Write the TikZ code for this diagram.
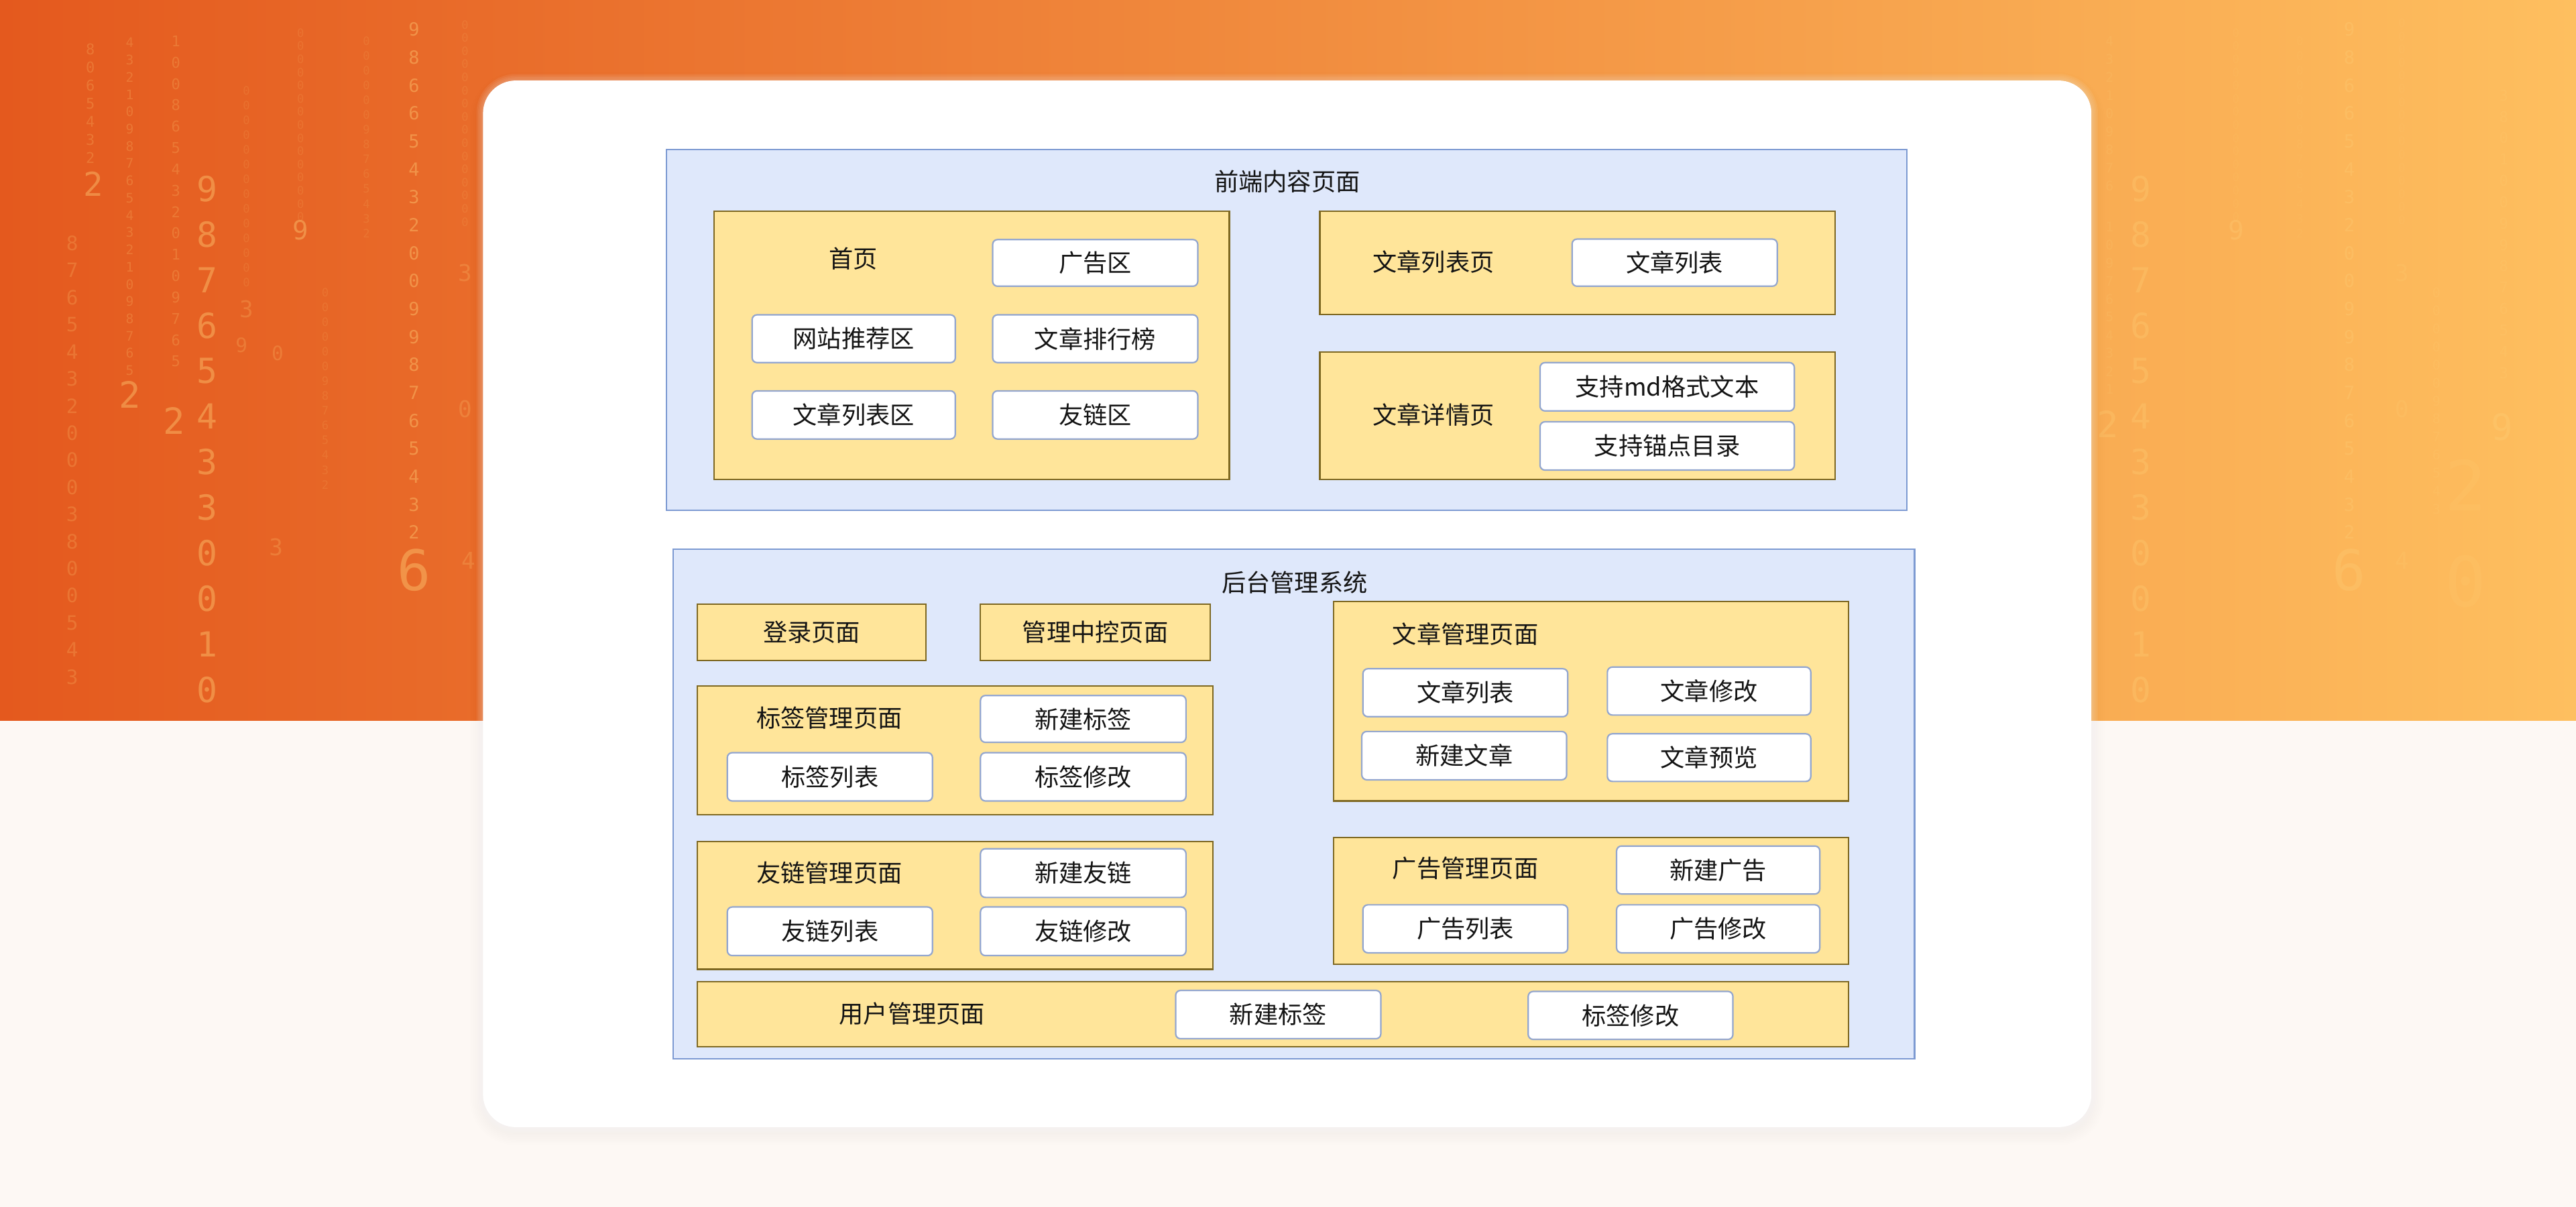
\documentclass[tikz,border=0pt]{standalone}
\usepackage{fontspec}
\setmainfont{Noto Sans CJK SC}
\newfontfamily\digfont{DejaVu Sans Mono}
\definecolor{orL}{HTML}{E4591E}
\definecolor{orR}{HTML}{FEBF5F}
\definecolor{creamb}{HTML}{FDF8F4}
\definecolor{bluef}{HTML}{DFE8FB}
\definecolor{blued}{HTML}{7D9AD2}
\definecolor{yelf}{HTML}{FFE59A}
\definecolor{yeld}{HTML}{7E6822}
\definecolor{wbd}{HTML}{93A6CF}
\definecolor{txt}{HTML}{141414}
\definecolor{digc}{HTML}{FFD27A}
\newcommand\lblfont{\fontsize{14.8}{17}\selectfont}
\tikzset{
  cont/.style={draw=blued, fill=bluef, line width=0.9pt, inner sep=0pt, outer sep=0pt},
  ybox/.style={draw=yeld, fill=yelf, line width=0.9pt, inner sep=0pt, outer sep=0pt, text=txt, font=\lblfont},
  wbox/.style={draw=wbd, fill=white, line width=0.9pt, rounded corners=3pt, inner sep=0pt, outer sep=0pt, text=txt, font=\lblfont},
  lbl/.style={text=txt, font=\lblfont, inner sep=0pt},
  digs/.style={text=digc, inner sep=0pt, font=\digfont\fontsize{#1}{#1}\selectfont},
}
\newcommand\bx[7]{\node[#2, minimum width={(#5)-(#3)}, minimum height={(#6)-(#4)}] (#1) at ({((#3)+(#5))/2},{((#4)+(#6))/2}) {#7};}
\newcommand\digcol[6]{%
  \foreach \d [count=\i from 0] in {#6} {
    \node[digs={#4}] (#1-\i) at (#2, {#3+\i*#5}) {\d};
  }%
}
\begin{document}
\begin{tikzpicture}[x=1pt,y=-1pt]
\useasboundingbox (0,0) rectangle (1568,734.6);
% background
\fill[creamb] (0,0) rectangle (1568,734.6);
\shade[left color=orL, right color=orR] (0,0) rectangle (1568,438.7);
% decorative digits, left
\begin{scope}[opacity=0.4]
  \digcol{dA}{126}{115}{21}{27.7}{9,8,7,6,5,4,3,3,0,0,1,0}
  \digcol{dB}{252}{18}{11}{17}{9,8,6,6,5,4,3,2,0,0,9,9,8,7,6,5,4,3,2}
  \node[digs=34] (dB6) at (252,347) {6};
  \node[digs=22] (dC2) at (79,240) {2};
  \node[digs=20] (dD2) at (57,112) {2};
  \node[digs=22] (dF2) at (106,256) {2};
  \node[digs=16] (dG9) at (183,140) {9};
\end{scope}
\begin{scope}[opacity=0.22]
  \digcol{dC}{79}{26}{8}{10.5}{4,3,2,1,0,9,8,7,6,5,4,3,2,1,0,9,8,7,6,5}
  \digcol{dD}{55}{30}{9}{11}{8,0,6,5,4,3,2}
  \digcol{dE}{44}{148}{12}{16.5}{8,7,6,5,4,3,2,0,0,0,3,8,0,0,5,4,3}
  \digcol{dF}{107}{25}{9}{13}{1,0,0,8,6,5,4,3,2,0,1,0,9,7,6,5}
  \node[digs=14] (dH3) at (150,188) {3};
  \node[digs=12] (dH9) at (147,210) {9};
  \node[digs=12] (dL0) at (169,215) {0};
  \node[digs=14] (dL3) at (168,333) {3};
  \node[digs=14] (dK3) at (283,166) {3};
  \node[digs=14] (dK0) at (283,249) {0};
  \node[digs=14] (dK4) at (285,341) {4};
\end{scope}
\begin{scope}[opacity=0.13]
  \digcol{dG}{183}{20}{7}{8}{0,0,0,0,0,0,0,0,0,0,0,0,0,0,0}
  \digcol{dH}{150}{55}{7}{9}{0,0,0,0,0,0,0,0,0,0,0,0,0,0}
  \digcol{dI}{223}{25}{7}{9}{0,0,0,0,0,0,9,8,7,6,5,4,3,2}
  \digcol{dJ}{198}{178}{7}{9}{0,0,0,0,0,0,9,8,7,6,5,4,3,2}
  \digcol{dK}{283}{15}{7}{8}{0,0,0,0,0,0,0,0,0,0,0,0,0,0,0,0}
\end{scope}
% decorative digits, right
\begin{scope}[opacity=0.28]
  \digcol{rA}{1303}{115}{21}{27.7}{9,8,7,6,5,4,3,3,0,0,1,0}
  \digcol{rB}{1430}{18}{11}{17}{9,8,6,6,5,4,3,2,0,0,9,9,8,7,6,5,4,3,2}
  \node[digs=34] (rB6) at (1430,347) {6};
  \node[digs=22] (rC2) at (1283,258) {2};
  \node[digs=22] (rE9) at (1523,260) {9};
  \node[digs=16] (rD9) at (1361,140) {9};
\end{scope}
\begin{scope}[opacity=0.16]
  \digcol{rC}{1284}{25}{8}{11}{4,3,2,1,0,9,8,7,6}
  \digcol{rCb}{1284}{138}{8}{11}{1,0,9,7,6,5,4,3,2,1}
  \digcol{rE}{1524}{58}{9}{13}{3,8,0,1,0,0,9,9,8,7,6,5,4,3}
  \digcol{rH}{1483}{178}{8}{11}{0,0,0,0,0,0,9,8,7,6,5,4,3}
  \node[digs=42] (rF2) at (1501,295) {2};
  \node[digs=42] (rF0) at (1501,354) {0};
  \node[digs=14] (rG3) at (1462,166) {3};
  \node[digs=14] (rG0) at (1462,249) {0};
  \node[digs=14] (rG4) at (1462,341) {4};
\end{scope}
\begin{scope}[opacity=0.1]
  \digcol{rD}{1361}{20}{7}{8}{0,0,0,0,0,0,0,0,0,0,0,0,0,0,0}
  \digcol{rG}{1462}{14}{7}{8}{0,0,0,0,0,0,0,0,0,0,0,0,0,0,0,0}
  \digcol{rI}{1400}{25}{7}{9}{0,0,0,0,0,0,9,8,7,6,5,4,3,2}
\end{scope}
% panel shadow, glow and panel
\foreach \g in {1,...,8} {
  \fill[black, opacity=0.005, rounded corners={20+\g}] ({294-\g},{49-\g+3}) rectangle ({1273+\g},{686+\g+3});
}
\foreach \g in {1,...,4} {
  \fill[white, opacity=0.07, rounded corners={20+\g}] ({294-\g},{49-\g}) rectangle ({1273+\g},{686+\g});
}
\fill[white, rounded corners=20pt] (294,49) rectangle (1273,686);
% front-end container
\bx{fe}{cont}{405.8}{91}{1160.7}{310.5}{}
\node[lbl] (feT) at (783.5,110.5) {前端内容页面};
\bx{home}{ybox}{434.6}{128.4}{748.3}{291.8}{}
\node[lbl] (homeT) at (519.4,157.3) {首页};
\bx{homeAd}{wbox}{604.2}{145.8}{729.1}{174.2}{广告区}
\bx{homeRec}{wbox}{457.8}{191.6}{581.5}{220.7}{网站推荐区}
\bx{homeRank}{wbox}{604.2}{191.6}{729.1}{220.7}{文章排行榜}
\bx{homeList}{wbox}{457.8}{237.9}{581.5}{267.2}{文章列表区}
\bx{homeLink}{wbox}{604.2}{237.9}{729.1}{267.2}{友链区}
\bx{alist}{ybox}{803.4}{128.4}{1116.9}{191.4}{}
\node[lbl] (alistT) at (872.6,159.4) {文章列表页};
\bx{alistW}{wbox}{956.9}{145.5}{1081.8}{174.2}{文章列表}
\bx{adet}{ybox}{803.4}{214.1}{1116.9}{291.8}{}
\node[lbl] (adetT) at (872.6,252.5) {文章详情页};
\bx{adetMd}{wbox}{937.4}{220.7}{1092.2}{250.1}{支持md格式文本}
\bx{adetAnc}{wbox}{937.4}{256.7}{1092.2}{286.1}{支持锚点目录}
% back-end container
\bx{be}{cont}{409.9}{334.2}{1165.4}{644.4}{}
\node[lbl] (beT) at (788,354.6) {后台管理系统};
\bx{login}{ybox}{424.6}{367.7}{563.6}{402.1}{登录页面}
\bx{ctrl}{ybox}{596.8}{367.7}{736.7}{402.1}{管理中控页面}
\bx{tag}{ybox}{424.6}{417.5}{738.4}{495.8}{}
\node[lbl] (tagT) at (504.8,436.8) {标签管理页面};
\bx{tagNew}{wbox}{596.8}{423.3}{721.9}{451.8}{新建标签}
\bx{tagList}{wbox}{442.7}{458.1}{567.6}{487.5}{标签列表}
\bx{tagMod}{wbox}{596.8}{458.1}{721.9}{487.5}{标签修改}
\bx{lnk}{ybox}{424.6}{512.2}{738.4}{589.9}{}
\node[lbl] (lnkT) at (504.8,531.2) {友链管理页面};
\bx{lnkNew}{wbox}{596.8}{516.6}{721.9}{546.2}{新建友链}
\bx{lnkList}{wbox}{442.7}{552}{567.6}{581.6}{友链列表}
\bx{lnkMod}{wbox}{596.8}{552}{721.9}{581.6}{友链修改}
\bx{art}{ybox}{811.6}{366}{1125.1}{487.5}{}
\node[lbl] (artT) at (892,385.8) {文章管理页面};
\bx{artList}{wbox}{829.6}{407}{954.3}{436.2}{文章列表}
\bx{artMod}{wbox}{978.4}{406}{1102.2}{435.2}{文章修改}
\bx{artNew}{wbox}{828.9}{445.2}{953.6}{474.6}{新建文章}
\bx{artPre}{wbox}{978.4}{446.6}{1102.2}{475.6}{文章预览}
\bx{adm}{ybox}{811.6}{509.7}{1125.1}{586.8}{}
\node[lbl] (admT) at (892,528.5) {广告管理页面};
\bx{admNew}{wbox}{984}{514.9}{1107.7}{544.1}{新建广告}
\bx{admList}{wbox}{829.6}{550.7}{954.3}{579.9}{广告列表}
\bx{admMod}{wbox}{984}{550.7}{1107.7}{579.9}{广告修改}
\bx{usr}{ybox}{424.6}{597.6}{1125.1}{637.1}{}
\node[lbl] (usrT) at (555.2,616.9) {用户管理页面};
\bx{usrNew}{wbox}{715.6}{602.8}{840.5}{632.2}{新建标签}
\bx{usrMod}{wbox}{930.2}{603.4}{1054.8}{632.6}{标签修改}
\end{tikzpicture}
\end{document}
